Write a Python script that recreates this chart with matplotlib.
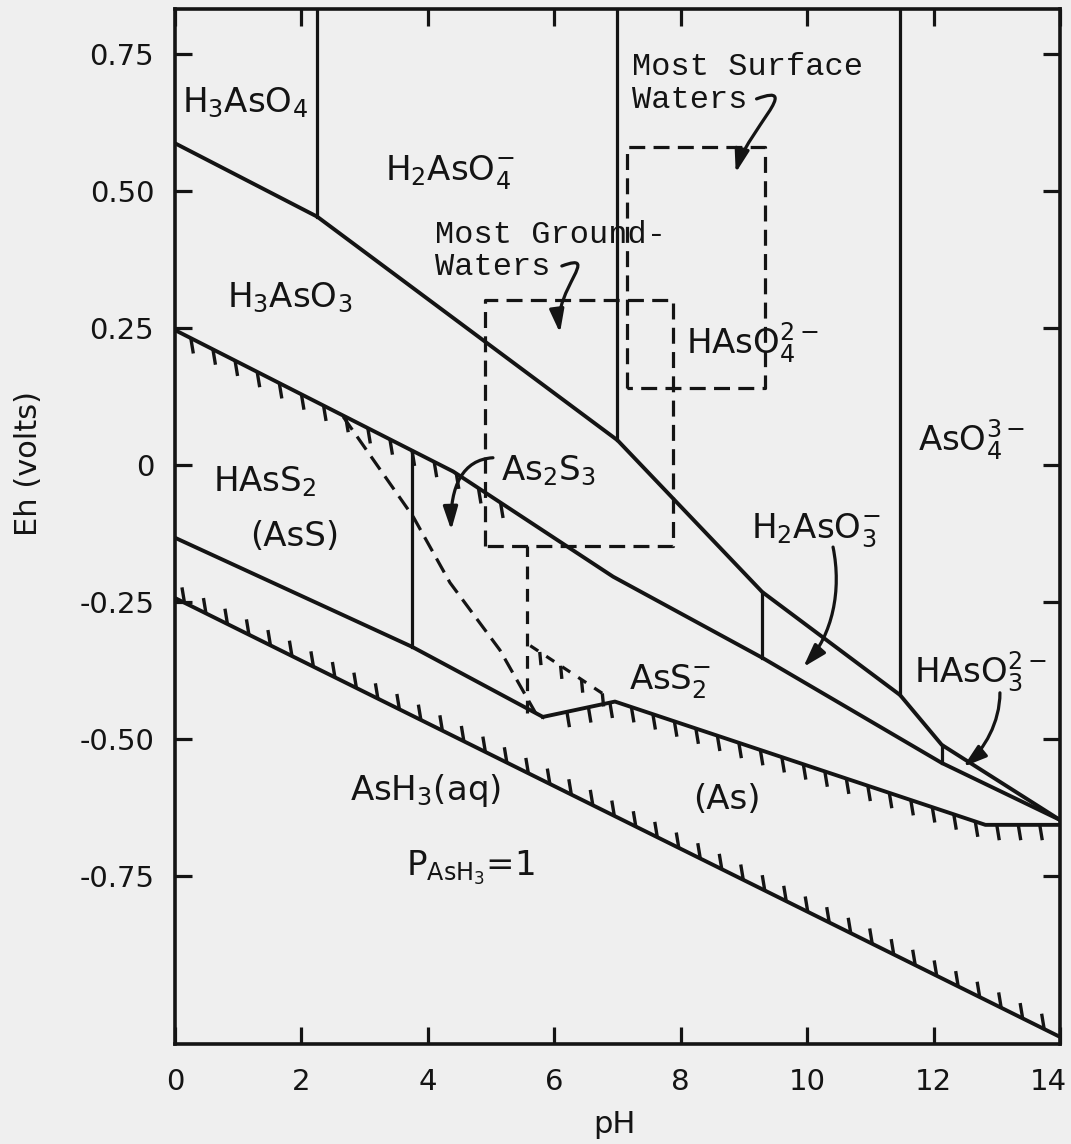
import numpy as np
import matplotlib
matplotlib.use("Agg")
import matplotlib.pyplot as plt
import matplotlib.transforms as mtransforms
from matplotlib.collections import LineCollection
from matplotlib.patches import FancyArrowPatch
from matplotlib.path import Path

plt.rcParams['font.family'] = ['DejaVu Sans']
plt.rcParams['mathtext.fontset'] = 'dejavusans'

ink = '#141414'
paper = '#efefef'

# axis ranges / ticks
ph_lim = [0, 14]
eh_lim = [-1.057, 0.832]
ph_ticks = [0, 2, 4, 6, 8, 10, 12, 14]
eh_ticks = [0.75, 0.5, 0.25, 0, -0.25, -0.5, -0.75]
eh_ticklabels = ['0.75', '0.50', '0.25', '0', '-0.25', '-0.50', '-0.75']

# As(V) / As(III) boundary
ph_as5 = [0, 2.25, 7.0, 9.29, 11.47, 12.13, 14.0]
eh_as5 = [0.587, 0.453, 0.045, -0.232, -0.420, -0.511, -0.648]

# As(III) aqueous / sulfide boundary (hatched on the left part)
ph_as3 = [0, 4.4, 6.93, 9.29, 12.13, 14.0]
eh_as3 = [0.246, -0.012, -0.204, -0.352, -0.544, -0.648]

# lower boundary of HAsS2 / (AsS)
ph_ass = [0, 3.75, 5.82]
eh_ass = [-0.133, -0.332, -0.460]

# (As) upper boundary
ph_asm = [5.82, 6.96, 12.82, 14.0]
eh_asm = [-0.460, -0.432, -0.657, -0.657]

# AsH3 boundary
ph_ash3 = [0, 14]
eh_ash3 = [-0.243, -1.044]

# vertical boundaries running up to the top frame (As(V) species)
ph_vert_top = [2.25, 7.0, 11.47]
# vertical boundaries between As(V) line and As(III) line
ph_vert_mid = [9.29, 12.13]
# vertical boundary inside the sulfide field
ph_vert_ass = [3.75]

# dashed As2S3 boundary
ph_dash = [2.66, 3.77, 4.35, 5.14, 5.7]
eh_dash = [0.088, -0.095, -0.215, -0.338, -0.452]
ph_dash_v = 5.57
eh_dash_v = [-0.452, -0.148]
ph_tees = [5.62, 6.8]
eh_tees = [-0.33, -0.42]

# water boxes
gw_ph = [4.9, 7.88]
gw_eh = [-0.148, 0.301]
sw_ph = [7.15, 9.33]
sw_eh = [0.140, 0.580]

fig = plt.figure(figsize=(10.71, 11.44), dpi=100, facecolor=paper)
ax = fig.add_axes([0.1634, 0.0874, 0.8263, 0.9047], facecolor=paper)
ax.set_xlim(ph_lim)
ax.set_ylim(eh_lim)

lw = 2.8
ax.plot(ph_as5, eh_as5, color=ink, lw=lw)
ax.plot(ph_as3, eh_as3, color=ink, lw=lw)
ax.plot(ph_ass, eh_ass, color=ink, lw=lw)
ax.plot(ph_asm, eh_asm, color=ink, lw=lw)
ax.plot(ph_ash3, eh_ash3, color=ink, lw=lw)

for p in ph_vert_top:
    ax.plot([p, p], [np.interp(p, ph_as5, eh_as5), eh_lim[1]], color=ink, lw=2.3)
for p in ph_vert_mid:
    ax.plot([p, p], [np.interp(p, ph_as3, eh_as3), np.interp(p, ph_as5, eh_as5)], color=ink, lw=2.3)
for p in ph_vert_ass:
    ax.plot([p, p], [np.interp(p, ph_ass, eh_ass), np.interp(p, ph_as3, eh_as3)], color=ink, lw=2.3)


def hatch(xs, ys, x0, x1, step, length, tilt=0.04):
    xt = np.arange(x0, x1 + 1e-9, step)
    yt = np.interp(xt, xs, ys)
    segs = [[(x, y), (x + tilt, y + length)] for x, y in zip(xt, yt)]
    ax.add_collection(LineCollection(segs, colors=ink, linewidths=2.4))


hatch(ph_as3, eh_as3, 0.25, 5.4, 0.35, -0.028)
hatch(ph_ash3, eh_ash3, 0.15, 13.9, 0.34, 0.028, tilt=-0.04)
hatch(ph_asm, eh_asm, 6.2, 13.95, 0.34, -0.028)

dash = (5, 2.6)
ax.plot(ph_dash, eh_dash, color=ink, lw=2.3, dashes=dash)
ax.plot([ph_dash_v, ph_dash_v], eh_dash_v, color=ink, lw=2.3, dashes=(4, 3))
ax.plot(ph_tees, eh_tees, color=ink, lw=2.3, dashes=(3, 3))
hatch(ph_tees, eh_tees, ph_tees[0] + 0.15, ph_tees[1], 0.33, -0.024, tilt=0.02)

for phs, ehs in [(gw_ph, gw_eh), (sw_ph, sw_eh)]:
    ax.plot([phs[0], phs[0], phs[1], phs[1], phs[0]],
            [ehs[0], ehs[1], ehs[1], ehs[0], ehs[0]],
            color=ink, lw=2.3, dashes=dash)

# species labels
fs = 24.5
labels = [
    (1.11, 0.661, r'H$_3$AsO$_4$'),
    (4.35, 0.533, r'H$_2$AsO$_4^{-}$'),
    (1.82, 0.305, r'H$_3$AsO$_3$'),
    (9.13, 0.222, r'HAsO$_4^{2-}$'),
    (12.61, 0.045, r'AsO$_4^{3-}$'),
    (1.42, -0.03, r'HAsS$_2$'),
    (1.9, -0.131, '(AsS)'),
    (5.9, -0.01, r'As$_2$S$_3$'),
    (10.13, -0.12, r'H$_2$AsO$_3^{-}$'),
    (7.83, -0.395, r'AsS$_2^{-}$'),
    (12.74, -0.378, r'HAsO$_3^{2-}$'),
    (3.96, -0.595, r'AsH$_3$(aq)'),
    (4.67, -0.735, r'P$_{\mathrm{AsH_3}}$=1'),
    (8.73, -0.611, '(As)'),
]
for x, y, s in labels:
    ax.text(x, y, s, fontsize=fs, color=ink, ha='center', va='center')

mono = dict(family='Liberation Mono', fontsize=23, color=ink, ha='left', va='center')
ax.text(7.23, 0.726, 'Most Surface', **mono)
ax.text(7.23, 0.666, 'Waters', **mono)
ax.text(4.11, 0.420, 'Most Ground-', **mono)
ax.text(4.11, 0.361, 'Waters', **mono)

# curved arrows (start, two controls, end)
arrows = [
    [(9.2, 0.668), (9.95, 0.70), (9.05, 0.61), (8.87, 0.533)],
    [(6.12, 0.363), (6.75, 0.39), (6.0, 0.32), (6.09, 0.241)],
    [(5.03, 0.013), (4.55, 0.010), (4.35, -0.04), (4.37, -0.119)],
    [(10.41, -0.150), (10.55, -0.23), (10.4, -0.31), (9.94, -0.369)],
    [(13.05, -0.416), (13.05, -0.47), (12.8, -0.52), (12.47, -0.551)],
]
codes = [Path.MOVETO, Path.CURVE4, Path.CURVE4, Path.CURVE4]
for pts in arrows:
    arr = FancyArrowPatch(path=Path(pts, codes), arrowstyle='-|>,head_length=0.7,head_width=0.22',
                          mutation_scale=20, color=ink, lw=2.3)
    ax.add_patch(arr)

# axes styling
for sp in ax.spines.values():
    sp.set_linewidth(2.6)
    sp.set_color(ink)
ax.set_xticks(ph_ticks)
ax.set_xticklabels([str(t) for t in ph_ticks])
ax.set_yticks(eh_ticks)
ax.set_yticklabels(eh_ticklabels)
ax.tick_params(direction='in', length=12, width=2.3, color=ink, top=True, right=True,
               labelsize=21, labelcolor=ink)
ax.tick_params(axis='x', pad=17)
ax.tick_params(axis='y', pad=15)

# keep the last pH label inside the figure, as in the reference
last = ax.get_xticklabels()[-1]
last.set_transform(last.get_transform() + mtransforms.ScaledTranslation(-12 / 100, 0, fig.dpi_scale_trans))

ax.set_xlabel('pH', fontsize=22, color=ink, va='center')
ax.xaxis.set_label_coords(0.497, -0.078)
ax.set_ylabel('Eh (volts)', fontsize=22, color=ink, va='center')
ax.yaxis.set_label_coords(-0.166, 0.561)

fig.savefig('out.png', dpi=100, facecolor=paper)
